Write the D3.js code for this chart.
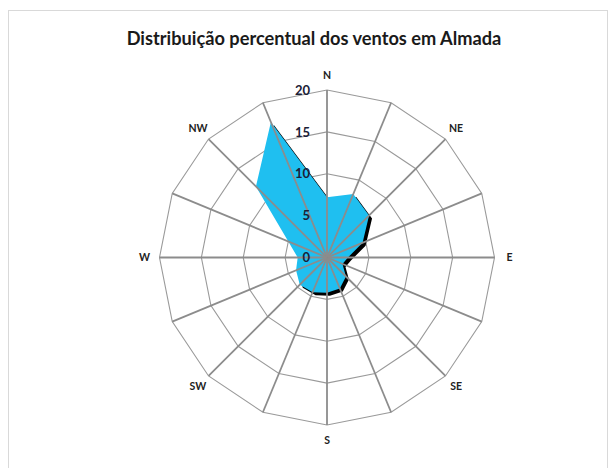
<!DOCTYPE html>
<html><head><meta charset="utf-8">
<script src="https://cdn.jsdelivr.net/npm/d3@7"></script>
<style>body{margin:0;background:#fff}</style>
</head><body>
<svg id="c" width="616" height="468"></svg>
<script>
const directions = ["N","NNE","NE","ENE","E","ESE","SE","SSE","S","SSW","SW","WSW","W","WNW","NW","NNW"];
const shownLabels = ["N","","NE","","E","","SE","","S","","SW","","W","","NW",""];
const frequency = [7.2,8.2,7.1,4.6,2.5,2.0,3.2,4.0,4.2,4.5,4.6,4.0,3.5,5.0,12,17.5];
const tickValues = [0,5,10,15,20];
const title = "Distribuição percentual dos ventos em Almada";

const svg = d3.select("#c");
const cx = 327, cy = 257.5, R = 167.5;
const r = d3.scaleLinear().domain([0, 20]).range([0, R]);
const ang = d3.scaleBand().domain(directions).range([0, 2 * Math.PI]);

// frame
svg.append("rect").attr("x", 8.5).attr("y", 10.5).attr("width", 599).attr("height", 480)
  .attr("fill", "#fff").attr("stroke", "#d9d9d9").attr("stroke-width", 1);

// title
const t = svg.append("text").attr("x", 314).attr("y", 45).attr("text-anchor", "middle")
  .attr("font-family", "Lato, 'Open Sans', sans-serif").attr("font-weight", "bold")
  .attr("font-size", 15).attr("fill", "#1a1a1a").text(title);
const len = t.node().getComputedTextLength();
t.attr("font-size", 15 * 375 / len);

const g = svg.append("g").attr("transform", `translate(${cx},${cy})`);

const ringLine = d3.lineRadial().angle(d => ang(d)).curve(d3.curveLinearClosed);

// rings
tickValues.filter(v => v > 0).forEach(v => {
  g.append("path").attr("d", ringLine.radius(() => r(v))(directions))
    .attr("fill", "none").attr("stroke", "#9a9a9a").attr("stroke-width", 1.1);
});

// data area
const area = d3.lineRadial()
  .angle((d, i) => ang(directions[i]))
  .radius(d => r(d))
  .curve(d3.curveLinearClosed);

g.append("path").attr("d", area(frequency)).attr("fill", "#000")
  .attr("transform", "translate(3,3)");
g.append("path").attr("d", area(frequency)).attr("fill", "#1fbff0");

// spokes
g.selectAll("line.spoke").data(directions).join("line").attr("class", "spoke")
  .attr("x1", 0).attr("y1", 0)
  .attr("x2", d => Math.sin(ang(d)) * r(20))
  .attr("y2", d => -Math.cos(ang(d)) * r(20))
  .attr("stroke", "#8c8c8c").attr("stroke-width", 1.8);

// tick labels
g.selectAll("text.tick").data(tickValues).join("text").attr("class", "tick")
  .attr("x", -17).attr("y", d => -r(d)).attr("dy", "0.36em")
  .attr("text-anchor", "end")
  .attr("font-family", "Lato, 'Open Sans', sans-serif").attr("font-weight", "bold")
  .attr("font-size", 13).attr("fill", "#1b2036").text(d => d);

// direction labels
g.selectAll("text.dir").data(directions).join("text").attr("class", "dir")
  .attr("x", d => Math.sin(ang(d)) * (R + 15))
  .attr("y", d => -Math.cos(ang(d)) * (R + 15))
  .attr("dy", "0.36em").attr("text-anchor", "middle")
  .attr("font-family", "Lato, 'Open Sans', sans-serif").attr("font-weight", "bold")
  .attr("font-size", 10.5).attr("fill", "#222")
  .text((d, i) => shownLabels[i]);
</script>
</body></html>
